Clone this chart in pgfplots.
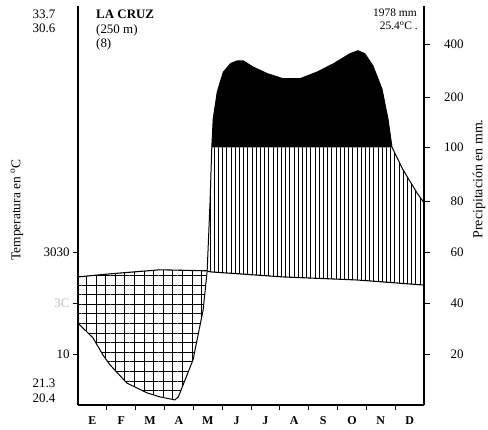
\documentclass[border=0pt]{standalone}
\usepackage{fontspec}
\setmainfont{Liberation Serif}
\usepackage{pgfplots}
\pgfplotsset{compat=1.18}
\usetikzlibrary{patterns.meta}

\begin{document}
\begin{tikzpicture}[x=1bp,y=1bp]
\path[use as bounding box] (0,0) rectangle (488,429);
\begin{axis}[
 at={(78bp,24bp)}, anchor=south west,
 scale only axis, width=346bp, height=399bp,
 xmin=0, xmax=12, ymin=0, ymax=78.5,
 axis x line*=bottom, axis y line*=left,
 axis line style={-, line width=1.3bp},
 tick align=outside, major tick length=5bp,
 tick style={line width=0.8bp, black},
 xtick={1,...,11}, xticklabels={,,,,,,,,,,},
 extra x ticks={0.5,1.5,...,11.5},
 extra x tick labels={E,F,M,A,M,J,J,A,S,O,N,D},
 extra x tick style={major tick length=0pt, tick label style={font=\fontsize{12}{14}\selectfont\bfseries, yshift=-8bp}},
 ytick={10,20,30}, yticklabels={10,{\color{black!25}3C},3030},
 yticklabel style={font=\fontsize{13}{15}\selectfont},
 clip=false,
]
% dry period: cross hatching
\addplot[draw=none, pattern={Lines[angle=0,distance=9.6bp,line width=1bp]}] coordinates {
 (0,25.2) (1.11,25.8) (2.84,26.6) (4.48,26.4)
 (4.34,18.7) (3.99,8.9) (3.48,1.6) (3.36,1.0) (2.84,1.6) (2.39,2.4) (1.70,4.3) (1.11,7.9) (0.87,9.8) (0.52,13.2) (0,16.1)
} -- cycle;
\addplot[draw=none, pattern={Lines[angle=90,distance=9.6bp,line width=1bp]}] coordinates {
 (0,25.2) (1.11,25.8) (2.84,26.6) (4.48,26.4)
 (4.34,18.7) (3.99,8.9) (3.48,1.6) (3.36,1.0) (2.84,1.6) (2.39,2.4) (1.70,4.3) (1.11,7.9) (0.87,9.8) (0.52,13.2) (0,16.1)
} -- cycle;
% humid period: vertical hatching
\addplot[draw=none, pattern={Lines[angle=90,distance=4.2bp,line width=0.7bp]}] coordinates {
 (4.48,26.4) (4.58,26.2) (7.11,25.2) (9.68,24.6) (12,23.6)
 (12,39.8) (11.76,41.7) (11.27,46.3) (10.89,50.7) (4.64,50.7) (4.58,40)
} -- cycle;
% perhumid period: black
\addplot[draw=none, fill=black] coordinates {
 (4.64,50.7) (4.69,56.3) (4.83,61.6) (5.04,65.5) (5.30,67.2) (5.52,67.7) (5.73,67.7) (6.07,66.5) (6.56,65.2) (7.11,64.2) (7.70,64.2) (8.29,65.5) (8.85,67.1) (9.43,69.1) (9.71,69.7) (9.95,69.1) (10.23,66.7) (10.54,62.2) (10.75,56.3) (10.89,50.7)
} -- cycle;
% precipitation curve
\addplot[black, line width=1bp] coordinates {
 (0,16.1) (0.52,13.2) (0.87,9.8) (1.11,7.9) (1.70,4.3) (2.39,2.4) (2.84,1.6) (3.36,1.0) (3.48,1.6) (3.99,8.9) (4.34,18.7) (4.48,26.4) (4.58,40) (4.64,50.7) (4.69,56.3) (4.83,61.6) (5.04,65.5) (5.30,67.2) (5.52,67.7) (5.73,67.7) (6.07,66.5) (6.56,65.2) (7.11,64.2) (7.70,64.2) (8.29,65.5) (8.85,67.1) (9.43,69.1) (9.71,69.7) (9.95,69.1) (10.23,66.7) (10.54,62.2) (10.75,56.3) (10.89,50.7) (11.27,46.3) (11.76,41.7) (12,39.8)
};
% temperature curve
\addplot[black, line width=1.1bp] coordinates {
 (0,25.2) (1.11,25.8) (2.84,26.6) (4.48,26.4) (4.58,26.2) (7.11,25.2) (9.68,24.6) (12,23.6)
};
\end{axis}
\begin{axis}[
 at={(78bp,24bp)}, anchor=south west,
 scale only axis, width=346bp, height=399bp,
 xmin=0, xmax=12, ymin=0, ymax=78.5,
 axis y line*=right, axis x line=none,
 axis line style={-, line width=1.3bp},
 tick align=outside, major tick length=6bp,
 tick style={line width=0.8bp, black},
 ytick={10,20,30,40,50.7,60.6,70.9},
 yticklabels={20,40,60,80,100,200,400},
 yticklabel style={font=\fontsize{13}{15}\selectfont, text width=26bp, align=right, xshift=4bp},
]
\end{axis}
\begin{scope}[every node/.style={font=\fontsize{13}{15}\selectfont, inner sep=0pt}]
\node at (44,415) {33.7};
\node at (44,401) {30.6};
\node[anchor=west] at (96,415) {\bfseries LA CRUZ};
\node[anchor=west] at (96,399) {(250 m)};
\node[anchor=west] at (96,385) {(8)};
\node[anchor=east, font=\fontsize{11.5}{13}\selectfont] at (417,416) {1978 mm};
\node[anchor=east, font=\fontsize{11.5}{13}\selectfont] at (418,403) {25.4\textsuperscript{o}C .};
\node at (44,46) {21.3};
\node at (44,31) {20.4};
\node[rotate=90, font=\fontsize{13.5}{15}\selectfont] at (17,219) {Temperatura en \textsuperscript{o}C};
\node[rotate=90, font=\fontsize{14}{16}\selectfont] at (479,250) {Precipitación en mm.};
\end{scope}
\end{tikzpicture}
\end{document}
